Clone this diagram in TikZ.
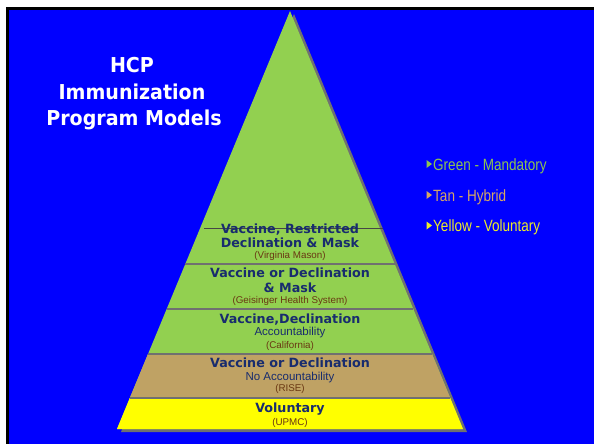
\documentclass[tikz,border=0pt]{standalone}
\usepackage{fontspec}
\setmainfont{Liberation Sans}
\newfontfamily\titlefont[FakeStretch=0.93]{DejaVu Sans}
\newfontfamily\bandfont{DejaVu Sans}
\newfontfamily\legendfont[FakeStretch=0.83]{Liberation Sans}

\definecolor{bgblue}{RGB}{0,0,255}
\definecolor{leafgreen}{RGB}{146,208,80}
\definecolor{tanband}{RGB}{191,162,100}
\definecolor{yellowband}{RGB}{255,255,0}
\definecolor{edgegray}{RGB}{112,112,112}
\definecolor{rulegray}{RGB}{70,70,70}
\definecolor{navytext}{RGB}{24,44,110}
\definecolor{browntext}{RGB}{105,55,18}
\definecolor{keygreen}{RGB}{140,196,80}
\definecolor{keytan}{RGB}{214,166,100}
\definecolor{keyyellow}{RGB}{236,236,40}

\tikzset{
  titletext/.style={anchor=base, inner sep=0pt, text=white,
    font=\titlefont\bfseries\fontsize{20.5}{24}\selectfont},
  headtext/.style={anchor=base, inner sep=0pt, text=navytext,
    font=\bandfont\bfseries\fontsize{12.7}{15}\selectfont},
  subtext/.style={anchor=base, inner sep=0pt, text=navytext,
    font=\fontsize{11.5}{13}\selectfont},
  orgtext/.style={anchor=base, inner sep=0pt, text=browntext,
    font=\fontsize{9.8}{11}\selectfont},
  keytext/.style={anchor=base west, inner sep=0pt,
    font=\legendfont\fontsize{16.3}{19}\selectfont},
  divider/.style={draw=edgegray, line width=1.6pt},
}

\begin{document}
\begin{tikzpicture}[x=1pt, y=-1pt]
  \useasboundingbox (0,0) rectangle (594,444);
  % slide background with dark frame on the top and left
  \fill[white] (0,0) rectangle (594,444);
  \fill[black] (6,7) rectangle (594,444);
  \fill[bgblue] (9,10) rectangle (594,444);

  % pyramid drop shadow
  \fill[edgegray] (294,14) -- (467,432) -- (121,432) -- cycle;
  % pyramid bands
  \fill[leafgreen] (290,11) -- (463,429) -- (117,429) -- cycle;
  \fill[tanband] (148,354) -- (432,354) -- (450.2,398) -- (129.8,398) -- cycle;
  \fill[yellowband] (129.8,398) -- (450.2,398) -- (463,429) -- (117,429) -- cycle;
  \path[divider] (185.3,264) -- (394.7,264);
  \path[divider] (166.7,309) -- (413.3,309);
  \path[divider] (148,354) -- (432,354);
  \path[divider] (129.8,398) -- (450.2,398);
  \draw[rulegray, line width=0.8pt] (204,228.3) -- (383,228.3);

  % title
  \node[titletext] (t1) at (132,72) {HCP};
  \node[titletext] (t2) at (132,99) {Immunization};
  \node[titletext] (t3) at (134,125) {Program Models};

  % band labels
  \node[headtext] (b1a) at (290,233) {Vaccine, Restricted};
  \node[headtext] (b1b) at (290,247.5) {Declination \& Mask};
  \node[orgtext]  (b1c) at (290,258.5) {(Virginia Mason)};

  \node[headtext] (b2a) at (290,277.5) {Vaccine or Declination};
  \node[headtext] (b2b) at (290,292) {\& Mask};
  \node[orgtext]  (b2c) at (290,303) {(Geisinger Health System)};

  \node[headtext] (b3a) at (290,323) {Vaccine,Declination};
  \node[subtext]  (b3b) at (290,335.5) {Accountability};
  \node[orgtext]  (b3c) at (290,348.5) {(California)};

  \node[headtext] (b4a) at (290,367) {Vaccine or Declination};
  \node[subtext]  (b4b) at (290,380) {No Accountability};
  \node[orgtext]  (b4c) at (290,391.5) {(RISE)};

  \node[headtext] (b5a) at (290,412.5) {Voluntary};
  \node[orgtext]  (b5b) at (290,425.5) {(UPMC)};

  % colour key
  \fill[keygreen] (426.5,160) -- (432,164) -- (426.5,168) -- cycle;
  \node[keytext, text=keygreen] (k1) at (433,170) {Green - Mandatory};
  \fill[keytan] (426.5,191) -- (432,195) -- (426.5,199) -- cycle;
  \node[keytext, text=keytan] (k2) at (433,201) {Tan - Hybrid};
  \fill[keyyellow] (426.5,221.5) -- (432,225.5) -- (426.5,229.5) -- cycle;
  \node[keytext, text=keyyellow] (k3) at (433,231.5) {Yellow - Voluntary};
\end{tikzpicture}
\end{document}
